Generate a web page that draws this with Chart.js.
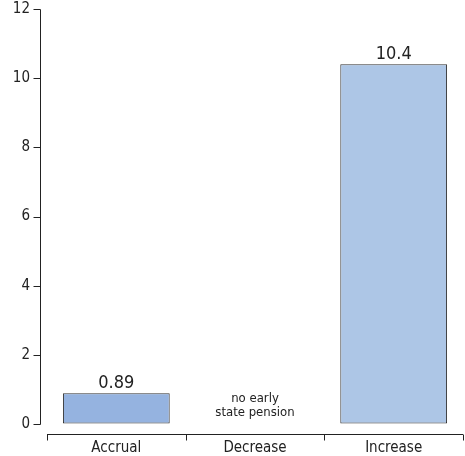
<!DOCTYPE html>
<html>
<head>
<meta charset="utf-8">
<script src="https://cdn.jsdelivr.net/npm/chart.js@4"></script>
<style>
  html, body { margin: 0; padding: 0; background: #fff; }
  #wrap { width: 465px; height: 456px; }
</style>
</head>
<body>
<div id="wrap"><canvas id="chart" width="465" height="456"></canvas></div>
<script>
// --- data ---
const categories = ['Accrual', 'Decrease', 'Increase'];
const values = [0.89, null, 10.4];
const valueLabels = ['0.89', '', '10.4'];
const noteLines = ['no early', 'state pension']; // shown under "Decrease"
const yTicks = [0, 2, 4, 6, 8, 10, 12];

const barColors = ['#95b3e0', '#adc6e6', '#adc6e6'];
const FONT = "'DejaVu Sans Condensed', 'Liberation Sans Narrow', 'Roboto', sans-serif";

// draws the detached axes, bar labels and the note
const axesPlugin = {
    id: 'axesPlugin',
    afterDraw(chart) {
        const { ctx, chartArea, scales } = chart;
        const x = scales.x, y = scales.y;
        ctx.save();
        ctx.strokeStyle = '#222';
        ctx.lineWidth = 1;

        // y axis, a few px left of the plot
        const ax = Math.round(chartArea.left - 7) + 0.5;
        ctx.beginPath();
        ctx.moveTo(ax, Math.round(y.getPixelForValue(12)) + 0.5);
        ctx.lineTo(ax, Math.round(y.getPixelForValue(0)) + 0.5);
        yTicks.forEach(v => {
            const py = Math.round(y.getPixelForValue(v)) + 0.5;
            ctx.moveTo(ax - 7, py);
            ctx.lineTo(ax, py);
        });
        ctx.stroke();

        // x axis, below the zero line
        const ay = Math.round(chartArea.bottom + 10) + 0.5;
        const step = x.getPixelForValue(1) - x.getPixelForValue(0);
        ctx.beginPath();
        ctx.moveTo(chartArea.left, ay);
        ctx.lineTo(chartArea.right, ay);
        for (let i = 0; i <= categories.length; i++) {
            const px = Math.round(x.getPixelForValue(0) - step / 2 + i * step) + 0.5;
            ctx.moveTo(px, ay);
            ctx.lineTo(px, ay + 6);
        }
        ctx.stroke();

        // value labels on top of bars
        ctx.fillStyle = '#222';
        ctx.textAlign = 'center';
        ctx.textBaseline = 'bottom';
        ctx.font = '18px ' + FONT;
        const meta = chart.getDatasetMeta(0);
        meta.data.forEach((bar, i) => {
            if (values[i] == null) return;
            ctx.fillText(valueLabels[i], bar.x, bar.y - 1);
        });

        // note for the empty category
        ctx.font = '13px ' + FONT;
        const nx = x.getPixelForValue(1);
        ctx.fillText(noteLines[0], nx, chartArea.bottom - 19);
        ctx.fillText(noteLines[1], nx, chartArea.bottom - 5);
        ctx.restore();
    }
};

new Chart(document.getElementById('chart'), {
    type: 'bar',
    data: {
        labels: categories,
        datasets: [{
            data: values,
            backgroundColor: barColors,
            borderColor: '#333',
            borderWidth: 1,
            borderSkipped: false,
            categoryPercentage: 0.77,
            barPercentage: 1
        }]
    },
    options: {
        responsive: false,
        animation: false,
        devicePixelRatio: 1,
        layout: { padding: { top: 2, right: 2, bottom: 0, left: 0 } },
        plugins: { legend: { display: false }, tooltip: { enabled: false } },
        scales: {
            x: {
                grid: { display: false, drawTicks: false },
                border: { display: false },
                ticks: { color: '#222', padding: 15, font: { family: FONT, size: 15 } },
                afterFit(scale) { scale.height = 32; }
            },
            y: {
                min: 0, max: 12,
                // transparent tick marks only to push the labels left
                grid: { display: true, drawOnChartArea: false, drawTicks: true, tickLength: 17, color: 'rgba(0,0,0,0)' },
                border: { display: false },
                ticks: { stepSize: 2, color: '#222', padding: 0, font: { family: FONT, size: 15 } },
                afterFit(scale) { scale.width = 47; }
            }
        }
    },
    plugins: [axesPlugin]
});
</script>
</body>
</html>
